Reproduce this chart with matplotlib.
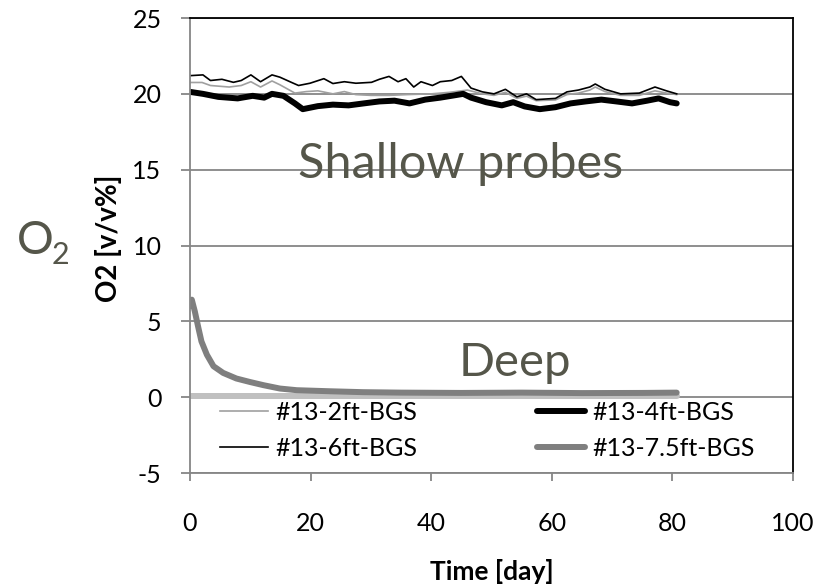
import matplotlib
matplotlib.use("Agg")
import matplotlib.pyplot as plt

plt.rcParams['font.family'] = ['Lato', 'DejaVu Sans']
plt.rcParams['axes.unicode_minus'] = False

# data (day, O2 v/v%)
days_2ft = [0, 2, 3.4, 6.5, 8.5, 10.1, 11.7, 13.6, 14.9, 17.4, 19.3, 21.2, 23.7, 25.6, 27.5,
            30, 33, 36, 40, 43, 46, 48.5, 50.4, 52.3, 54.2, 55.8, 57.4, 60.6, 62.5, 64.4,
            66.3, 67.2, 68.8, 71.4, 74.5, 77.1, 79, 80.7]
o2_2ft = [20.75, 20.75, 20.55, 20.45, 20.55, 20.8, 20.45, 20.85, 20.6, 20.05, 20.15, 20.2,
          20.0, 20.15, 19.95, 19.9, 19.9, 19.95, 20.0, 20.1, 20.25, 20.0, 19.9, 20.1, 19.7,
          19.85, 19.55, 19.6, 19.95, 20.05, 20.25, 20.45, 20.15, 19.9, 19.9, 20.2, 20.05, 19.95]

days_4ft = [0, 2.15, 4.7, 7.9, 10.4, 12.3, 13.6, 15.5, 17.4, 18.7, 21.2, 23.7, 26.3, 28.8,
            31.4, 33.9, 36.4, 39.0, 41.5, 44.1, 45.3, 46.6, 49.1, 51.7, 53.6, 55.5, 58.0,
            60.6, 63.1, 65.6, 68.2, 70.7, 73.3, 75.8, 77.7, 79.6, 80.7]
o2_4ft = [20.13, 20.0, 19.8, 19.7, 19.87, 19.75, 20.0, 19.87, 19.37, 18.99, 19.19, 19.29,
          19.24, 19.37, 19.5, 19.55, 19.37, 19.62, 19.75, 19.92, 20.0, 19.75, 19.45, 19.24,
          19.45, 19.17, 18.99, 19.12, 19.37, 19.5, 19.62, 19.5, 19.37, 19.55, 19.7, 19.45, 19.37]

days_6ft = [0, 2.15, 3.4, 5.3, 7.2, 8.5, 10.1, 11.7, 13.6, 14.9, 16.8, 18.0, 19.9, 22.2,
            23.7, 25.6, 27.5, 30.1, 31.4, 33.0, 34.5, 35.8, 37.1, 38.3, 40.2, 41.5, 43.4,
            45.0, 46.6, 48.5, 50.4, 52.3, 54.2, 55.8, 57.4, 60.6, 62.5, 64.4, 66.3, 67.2,
            68.8, 71.4, 74.5, 77.1, 79.0, 80.7]
o2_6ft = [21.2, 21.25, 20.88, 20.96, 20.76, 20.88, 21.25, 20.8, 21.25, 21.1, 20.76, 20.55,
          20.7, 21.0, 20.68, 20.8, 20.7, 20.76, 20.96, 21.15, 20.8, 21.0, 20.45, 20.8, 20.55,
          20.8, 20.88, 21.15, 20.38, 20.13, 20.0, 20.3, 19.8, 20.0, 19.62, 19.7, 20.13, 20.25,
          20.45, 20.65, 20.3, 20.0, 20.05, 20.45, 20.2, 20.0]

days_75ft = [0, 0.3, 0.8, 1.4, 1.9, 2.8, 3.9, 5.5, 7.7, 9.95, 12.2, 14.9, 17.7, 23.2, 28.7,
             35, 45, 55, 65, 75, 80.7]
o2_75ft = [6.0, 6.43, 5.66, 4.56, 3.68, 2.8, 2.04, 1.6, 1.23, 1.0, 0.79, 0.57, 0.46, 0.39,
           0.33, 0.3, 0.28, 0.3, 0.27, 0.28, 0.3]

days_base = [0, 80.7]
o2_base = [0.05, 0.05]

text_col = '#55564a'
grid_col = '#868686'

fig = plt.figure(figsize=(8.21, 5.87), dpi=100)
ax = fig.add_axes([0.2314, 0.1942, 0.7346, 0.7751])

ax.plot(days_base, o2_base, color='#c0c0c0', lw=4.3, solid_capstyle='round')
l2, = ax.plot(days_2ft, o2_2ft, color='#a0a0a0', lw=1.2, label='#13-2ft-BGS')
l4, = ax.plot(days_4ft, o2_4ft, color='black', lw=4.3, solid_capstyle='round', label='#13-4ft-BGS')
l6, = ax.plot(days_6ft, o2_6ft, color='black', lw=1.2, label='#13-6ft-BGS')
l75, = ax.plot(days_75ft, o2_75ft, color='#7f7f7f', lw=4.3, solid_capstyle='round', label='#13-7.5ft-BGS')

ax.set_xlim(0, 100)
ax.set_ylim(-5, 25)
ax.set_xticks(range(0, 101, 20))
ax.set_yticks(range(-5, 26, 5))
ax.grid(axis='y', color=grid_col, lw=1.3)
ax.set_axisbelow(True)

for s in ['top', 'right']:
    ax.spines[s].set_color('black')
    ax.spines[s].set_linewidth(1.3)
for s in ['left', 'bottom']:
    ax.spines[s].set_color(grid_col)
    ax.spines[s].set_linewidth(1.3)

ax.tick_params(axis='y', direction='out', length=6.5, width=1.3, color=grid_col,
               labelsize=18, pad=14)
ax.tick_params(axis='x', direction='out', length=6, width=1.3, color=grid_col,
               labelsize=18, pad=22)

ax.set_ylabel('O2 [v/v%]', fontsize=20, fontweight='bold')
ax.yaxis.set_label_coords(-0.113, 0.515)
ax.set_xlabel('Time [day]', fontsize=19, fontweight='bold')
ax.xaxis.set_label_coords(0.5, -0.19)

ax.text(44.8, 14.45, 'Shallow probes', fontsize=35, color=text_col, ha='center', va='baseline')
ax.text(53.8, 1.38, 'Deep', fontsize=34, color=text_col, ha='center', va='baseline')

fig.text(0.021, 0.568, 'O', fontsize=33, color=text_col, ha='left', va='baseline')
fig.text(0.063, 0.55, '2', fontsize=22, color=text_col, ha='left', va='baseline')

# legend rows: 2ft | 4ft, then 6ft | 7.5ft
ax.legend([l2, l6, l4, l75], [l2.get_label(), l6.get_label(), l4.get_label(), l75.get_label()],
          ncol=2, loc='upper left', bbox_to_anchor=(0.05, 0.158), frameon=False,
          fontsize=18, handlelength=1.9, handletextpad=0.3, columnspacing=4.8,
          labelspacing=0.5, borderpad=0, borderaxespad=0)

fig.savefig('out.png', dpi=100)
